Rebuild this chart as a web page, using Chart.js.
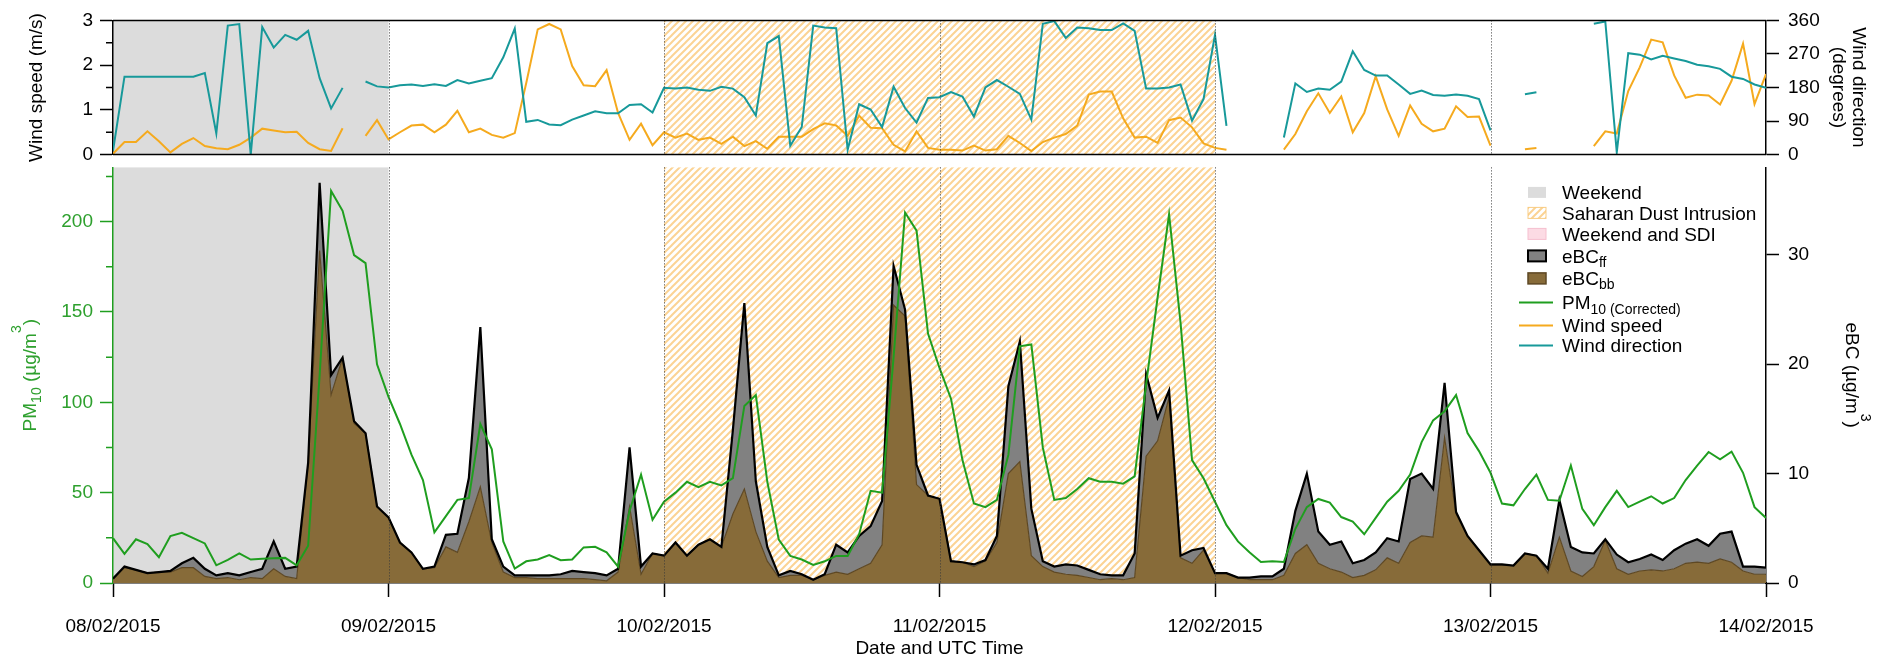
<!DOCTYPE html>
<html>
<head>
<meta charset="utf-8">
<title>eBC, PM10 and wind, 08-14/02/2015</title>
<script src="https://cdn.jsdelivr.net/npm/chart.js@4.4.1/dist/chart.umd.min.js"></script>
<style>
  html, body { margin: 0; padding: 0; background: #fff; }
  #wrap { position: relative; width: 1887px; height: 661px; overflow: hidden; }
  #mainChart { position: absolute; left: 0; top: 147px; }
  #windChart { position: absolute; left: 0; top: 0; }
</style>
</head>
<body>
<div id="wrap">
  <canvas id="mainChart" width="1887" height="514"></canvas>
  <canvas id="windChart" width="1887" height="175"></canvas>
</div>
<script>
// hourly values, 08/02/2015 00:00 -> 14/02/2015 00:00 UTC (145 points, one row per day)
const dayLabels = ['08/02/2015', '09/02/2015', '10/02/2015', '11/02/2015', '12/02/2015', '13/02/2015', '14/02/2015'];

const windSpeed = [
  0.02, 0.28, 0.28, 0.52, 0.30, 0.05, 0.24, 0.37, 0.19, 0.14, 0.12, 0.22, 0.38, 0.58, 0.54, 0.50, 0.51, 0.26, 0.12, 0.08, 0.59, null, 0.42, 0.77,
  0.34, 0.50, 0.65, 0.67, 0.50, 0.67, 0.98, 0.50, 0.58, 0.44, 0.38, 0.48, 1.60, 2.80, 2.92, 2.80, 1.98, 1.55, 1.53, 1.89, 0.93, 0.33, 0.69, 0.21,
  0.50, 0.38, 0.47, 0.33, 0.38, 0.24, 0.40, 0.19, 0.30, 0.13, 0.40, 0.40, 0.40, 0.57, 0.70, 0.65, 0.42, 0.87, 0.60, 0.59, 0.22, 0.07, 0.52, 0.15,
  0.11, 0.11, 0.09, 0.20, 0.09, 0.12, 0.42, 0.26, 0.08, 0.28, 0.38, 0.46, 0.65, 1.34, 1.41, 1.41, 0.81, 0.38, 0.40, 0.26, 0.77, 0.83, 0.61, 0.25,
  0.15, 0.11, null, null, null, null, 0.11, 0.46, 0.97, 1.37, 0.93, 1.30, 0.50, 0.93, 1.75, 1.01, 0.42, 1.10, 0.69, 0.52, 0.58, 1.08, 0.84, 0.85,
  0.20, null, null, 0.12, 0.15, null, null, null, null, 0.19, 0.52, 0.47, 1.42, 1.95, 2.57, 2.51, 1.77, 1.27, 1.34, 1.32, 1.12, 1.65, 2.48, 1.13, 1.80
];

const windDir = [
  10, 209, 209, 209, 209, 209, 209, 209, 219, 57, 346, 350, 0, 342, 287, 321, 308, 332, 205, 124, 179, null, 196, 183,
  180, 186, 188, 184, 189, 184, 200, 191, 198, 205, 261, 338, 88, 93, 81, 79, 94, 105, 116, 111, 111, 133, 135, 113,
  179, 177, 180, 174, 171, 182, 177, 154, 105, 299, 318, 24, 74, 346, 341, 339, 13, 135, 121, 74, 182, 125, 86, 152,
  154, 168, 156, 102, 180, 200, 182, 163, 94, 351, 358, 313, 341, 339, 334, 334, 352, 332, 177, 177, 180, 188, 91, 149,
  321, 77, null, null, null, null, 46, 191, 168, 177, 174, 196, 277, 227, 212, 212, 188, 163, 172, 160, 158, 161, 158, 149,
  65, null, null, 162, 167, null, null, null, null, 351, 357, 6, 272, 268, 255, 265, 258, 251, 241, 237, 230, 209, 203, 188, 179
];

const pm10 = [
  24.8, 16.1, 24.2, 21.5, 14.3, 26, 27.8, 24.8, 21.9, 9.8, 12.8, 16.4, 13, 13.4, 13.7, 13.9, 9.8, 20.6, 115, 217, 206, 181.5, 177, 121,
  103, 88, 71, 57, 28, 37, 46, 47, 88, 74, 23, 8, 12, 13, 15.5, 12.6, 13, 19.7, 20, 17, 9, 40, 60, 35,
  45, 50, 56, 53, 56, 54, 58, 98, 104, 56, 24, 15, 13, 10, 12, 15, 15, 27, 51, 50, 125, 205, 195, 138,
  119, 102, 68, 44, 42, 46, 71, 131, 132, 75, 46, 47, 52, 58, 56, 56, 55, 59, 110, 158, 204, 144, 68, 58,
  45, 32, 23, 17, 11.6, 12, 11.6, 30, 42, 46.5, 44.5, 36.5, 34, 27, 36, 45, 51, 60, 78, 90, 95, 104, 83, 73,
  61, 44, 43, 52, 60, 46, 45.5, 65, 41, 32, 42, 51, 42, 45, 48, 44, 47, 57, 65, 72.5, 68.5, 72.7, 61, 42, 36
];

// total eBC (top of the grey band, eBCff + eBCbb)
const ebcTotal = [
  0.4, 1.5, 1.2, 0.9, 1.0, 1.1, 1.8, 2.3, 1.3, 0.7, 0.9, 0.7, 1.0, 1.3, 3.8, 1.3, 1.5, 11, 36.6, 19, 20.6, 14.8, 13.7, 7,
  6, 3.7, 2.8, 1.3, 1.5, 4.4, 4.5, 9.6, 23.4, 4, 1.5, 0.7, 0.7, 0.7, 0.7, 0.8, 1.1, 1.0, 0.9, 0.7, 1.3, 12.4, 1.5, 2.7,
  2.5, 3.7, 2.5, 3.5, 4, 3.3, 14, 25.6, 9.3, 3.3, 0.7, 1.1, 0.8, 0.3, 0.8, 3.5, 2.8, 4.3, 5.2, 7.5, 29, 25, 10.8, 8,
  7.7, 2, 1.9, 1.7, 2.1, 4.3, 18, 22.1, 6.8, 2, 1.5, 1.7, 1.6, 1.2, 0.8, 0.7, 0.7, 2.7, 19.1, 15.1, 17.6, 2.5, 3, 3.2,
  0.9, 0.9, 0.5, 0.5, 0.6, 0.6, 1.3, 6.6, 10, 4.7, 3.5, 3.8, 1.8, 2.1, 2.8, 4.1, 3.8, 9.5, 10, 8.6, 18.3, 6.5, 4.3, 3,
  1.7, 1.7, 1.6, 2.7, 2.5, 1.3, 7.6, 3.3, 2.8, 2.7, 4, 2.6, 1.9, 2.2, 2.6, 2.1, 3, 3.6, 4, 3.4, 4.5, 4.7, 1.5, 1.5, 1.4
];

// biomass burning part
const ebcBb = [
  0.4, 1.4, 1.2, 0.9, 1.0, 1.0, 1.4, 1.4, 0.6, 0.4, 0.5, 0.3, 0.5, 0.4, 1.3, 0.6, 0.4, 11, 30.4, 17.2, 20.6, 14.6, 13.7, 7,
  6, 3.7, 2.8, 1.3, 1.4, 3.3, 2.8, 5.6, 8.8, 3.7, 1.0, 0.5, 0.5, 0.4, 0.4, 0.4, 0.4, 0.4, 0.3, 0.2, 1.0, 7, 0.8, 2.7,
  2.5, 3.7, 2.5, 3.5, 4, 3.3, 6.3, 8.6, 4.7, 2, 0.5, 0.7, 0.7, 0.3, 0.7, 1.0, 0.8, 1.3, 1.8, 3.5, 25.4, 24.4, 9, 8,
  7.7, 2, 1.9, 1.5, 2, 3.7, 10, 11.1, 2.5, 1.5, 1.0, 0.8, 0.7, 0.5, 0.3, 0.4, 0.3, 0.5, 11.6, 13, 17, 2.3, 1.8, 3,
  0.9, 0.9, 0.5, 0.3, 0.3, 0.3, 0.7, 2.7, 3.5, 1.8, 1.3, 1.0, 0.5, 0.7, 1.2, 2.3, 1.8, 3.7, 4.3, 4.2, 13.3, 6.3, 4.3, 3,
  1.6, 1.6, 1.6, 2.7, 2.5, 0.9, 4.2, 1.1, 0.6, 1.5, 3.9, 1.3, 0.8, 1.1, 1.2, 1.1, 1.3, 1.8, 1.9, 1.8, 2.2, 1.9, 1.1, 0.8, 0.8
];

// periods in hours from the start
const weekendSpans = [[0, 24]];
const dustSpans = [[48, 96]];

const FONT = '"Liberation Sans", Arial, Helvetica, sans-serif';
const FS = 19;
Chart.defaults.font.family = FONT;
Chart.defaults.font.size = FS;
Chart.defaults.color = '#000';

const GREEN = '#1f9e1f';
const GREEN_TXT = '#2ea02e';
const ORANGE = '#f5aa1e';
const TEAL = '#17999a';
const GREY_BAND = '#818181';
const BROWN = '#876b39';
const BROWN_EDGE = '#5e4824';
const WEEKEND = '#dcdcdc';

const pts = arr => arr.map((v, i) => ({ x: i, y: v }));

// diagonal hatch tile for the dust intrusion period
const tile = document.createElement('canvas');
tile.width = 7;
tile.height = 7;
(() => {
  const g = tile.getContext('2d');
  g.strokeStyle = 'rgba(250,196,112,0.75)';
  g.lineWidth = 2;
  g.beginPath();
  g.moveTo(-1, 1); g.lineTo(1, -1);
  g.moveTo(-1, 8); g.lineTo(8, -1);
  g.moveTo(6, 8); g.lineTo(8, 6);
  g.stroke();
})();

function shadeSpans(chart) {
  const { ctx, chartArea: a, scales: { x } } = chart;
  ctx.save();
  ctx.fillStyle = WEEKEND;
  weekendSpans.forEach(([s, e]) => {
    const x0 = x.getPixelForValue(s), x1 = x.getPixelForValue(e);
    ctx.fillRect(x0, a.top, x1 - x0, a.bottom - a.top);
  });
  ctx.fillStyle = ctx.createPattern(tile, 'repeat');
  dustSpans.forEach(([s, e]) => {
    const x0 = x.getPixelForValue(s), x1 = x.getPixelForValue(e);
    ctx.fillRect(x0, a.top, x1 - x0, a.bottom - a.top);
  });
  ctx.restore();
}

function dayLines(chart) {
  const { ctx, chartArea: a, scales: { x } } = chart;
  ctx.save();
  ctx.strokeStyle = '#3a3a3a';
  ctx.lineWidth = 1;
  ctx.setLineDash([1, 2]);
  for (let d = 1; d < dayLabels.length - 1; d++) {
    const px = Math.round(x.getPixelForValue(d * 24)) + 0.5;
    ctx.beginPath();
    ctx.moveTo(px, a.top);
    ctx.lineTo(px, a.bottom);
    ctx.stroke();
  }
  ctx.restore();
}

function minorTicks(chart, id, values, len, color) {
  const s = chart.scales[id];
  const ctx = chart.ctx;
  const left = s.position === 'left';
  const x0 = left ? s.right : s.left;
  ctx.save();
  ctx.strokeStyle = color;
  ctx.lineWidth = 1.5;
  ctx.beginPath();
  values.forEach(v => {
    const y = s.getPixelForValue(v);
    ctx.moveTo(x0, y);
    ctx.lineTo(left ? x0 - len : x0 + len, y);
  });
  ctx.stroke();
  ctx.restore();
}

// text made of runs: [text, size, baseline shift]
function drawParts(ctx, parts, x, y, angle = 0, align = 'center', color = '#000') {
  ctx.save();
  ctx.translate(x, y);
  ctx.rotate(angle);
  ctx.fillStyle = color;
  ctx.textBaseline = 'alphabetic';
  ctx.textAlign = 'left';
  const widths = parts.map(([t, size]) => {
    ctx.font = size + 'px ' + FONT;
    return ctx.measureText(t).width;
  });
  const total = widths.reduce((s, w) => s + w, 0);
  let cx = align === 'center' ? -total / 2 : 0;
  parts.forEach(([t, size, dy = 0], i) => {
    ctx.font = size + 'px ' + FONT;
    ctx.fillText(t, cx, 7 + dy);
    cx += widths[i];
  });
  ctx.restore();
}

function hLine(ctx, x0, x1, y, color, w) {
  ctx.save();
  ctx.strokeStyle = color;
  ctx.lineWidth = w;
  ctx.beginPath();
  ctx.moveTo(x0, y);
  ctx.lineTo(x1, y);
  ctx.stroke();
  ctx.restore();
}

const axisGrid = color => ({ drawOnChartArea: false, tickLength: 13, tickWidth: 1.5, tickColor: color });
const axisBorder = color => ({ color: color, width: 1.5 });

// ---- wind panel ----
const windDecor = {
  id: 'windDecor',
  beforeDraw: shadeSpans,
  afterDraw(chart) {
    const { ctx, chartArea: a } = chart;
    dayLines(chart);
    hLine(ctx, a.left, a.right, a.top, '#000', 1.5);
    hLine(ctx, a.left, a.right, a.bottom, '#000', 1.5);
    minorTicks(chart, 'yWs', [0.5, 1.5, 2.5], 7, '#000');
    const mid = (a.top + a.bottom) / 2;
    drawParts(ctx, [['Wind speed (m/s)', FS]], 35, mid, -Math.PI / 2);
    drawParts(ctx, [['Wind direction', FS]], a.right + 94, mid, Math.PI / 2);
    drawParts(ctx, [['(degrees)', FS]], a.right + 74, mid, Math.PI / 2);
  }
};

new Chart(document.getElementById('windChart'), {
  type: 'line',
  data: {
    datasets: [
      { label: 'Wind direction', data: pts(windDir), yAxisID: 'yDir', borderColor: TEAL, borderWidth: 2, pointRadius: 0, order: 0 },
      { label: 'Wind speed', data: pts(windSpeed), yAxisID: 'yWs', borderColor: ORANGE, borderWidth: 2, pointRadius: 0, order: 1 }
    ]
  },
  options: {
    responsive: false,
    animation: false,
    events: [],
    layout: { padding: { top: 17, bottom: 16, left: 0, right: 0 } },
    plugins: { legend: { display: false }, tooltip: { enabled: false } },
    scales: {
      x: { type: 'linear', min: 0, max: 144, display: false },
      yWs: {
        position: 'left', min: 0, max: 3,
        ticks: { stepSize: 1, padding: 7 },
        grid: axisGrid('#000'), border: axisBorder('#000'),
        afterFit: s => { s.width = 113; }
      },
      yDir: {
        position: 'right', min: 0, max: 360,
        ticks: { stepSize: 90, padding: 9 },
        grid: axisGrid('#000'), border: axisBorder('#000'),
        afterFit: s => { s.width = 121; }
      }
    }
  },
  plugins: [windDecor]
});

// ---- PM10 / eBC panel ----
const mainDecor = {
  id: 'mainDecor',
  beforeDraw: shadeSpans,
  afterDatasetsDraw: dayLines,
  afterDraw(chart) {
    const { ctx, chartArea: a } = chart;
    minorTicks(chart, 'yPm', [25, 75, 125, 175, 225], 7, GREEN);
    const mid = (a.top + a.bottom) / 2;
    drawParts(ctx, [['PM', FS], ['10', 14, 5], [' (\u00b5g/m', FS], ['3', 14, -15], [')', FS]], 29, mid, -Math.PI / 2, 'center', GREEN_TXT);
    drawParts(ctx, [['eBC (\u00b5g/m', FS], ['3', 14, -15], [')', FS]], a.right + 87, mid, Math.PI / 2);
    drawParts(ctx, [['Date and UTC Time', FS]], (a.left + a.right) / 2, a.bottom + 64);

    // legend
    const tx = a.right - 204, sx = a.right - 238, lx0 = a.right - 247, lx1 = a.right - 213;
    const row = d => a.top + d;
    const box = (y, fill, stroke, w) => {
      ctx.save();
      ctx.fillStyle = fill;
      ctx.fillRect(sx, y - 5.5, 18, 11);
      if (stroke) {
        ctx.strokeStyle = stroke;
        ctx.lineWidth = w;
        ctx.strokeRect(sx, y - 5.5, 18, 11);
      }
      ctx.restore();
    };
    box(row(25), WEEKEND);
    box(row(45.5), ctx.createPattern(tile, 'repeat'), 'rgba(247,200,120,0.9)', 1);
    box(row(66.5), '#fcdbe4', '#f6bfcf', 1);
    box(row(88.5), GREY_BAND, '#000', 2);
    box(row(111), BROWN, BROWN_EDGE, 1.5);
    hLine(ctx, lx0, lx1, row(135), GREEN, 2);
    hLine(ctx, lx0, lx1, row(158), ORANGE, 2);
    hLine(ctx, lx0, lx1, row(178), TEAL, 2);
    drawParts(ctx, [['Weekend', FS]], tx, row(25), 0, 'left');
    drawParts(ctx, [['Saharan Dust Intrusion', FS]], tx, row(45.5), 0, 'left');
    drawParts(ctx, [['Weekend and SDI', FS]], tx, row(66.5), 0, 'left');
    drawParts(ctx, [['eBC', FS], ['ff', 14, 4]], tx, row(88.5), 0, 'left');
    drawParts(ctx, [['eBC', FS], ['bb', 14, 4]], tx, row(111), 0, 'left');
    drawParts(ctx, [['PM', FS], ['10 (Corrected)', 14, 5]], tx, row(135), 0, 'left');
    drawParts(ctx, [['Wind speed', FS]], tx, row(158), 0, 'left');
    drawParts(ctx, [['Wind direction', FS]], tx, row(178), 0, 'left');
  }
};

new Chart(document.getElementById('mainChart'), {
  type: 'line',
  data: {
    datasets: [
      { label: 'PM10 (Corrected)', data: pts(pm10), yAxisID: 'yPm', borderColor: GREEN, borderWidth: 2, pointRadius: 0, fill: false, order: 0 },
      { label: 'eBCff', data: pts(ebcTotal), yAxisID: 'yEbc', borderColor: '#000', borderWidth: 2.2, backgroundColor: GREY_BAND, pointRadius: 0, fill: 2, order: 1 },
      { label: 'eBCbb', data: pts(ebcBb), yAxisID: 'yEbc', borderColor: BROWN_EDGE, borderWidth: 1.2, backgroundColor: BROWN, pointRadius: 0, fill: 'origin', order: 2 }
    ]
  },
  options: {
    responsive: false,
    animation: false,
    events: [],
    layout: { padding: { top: 12, bottom: 0, left: 0, right: 0 } },
    plugins: {
      legend: { display: false },
      tooltip: { enabled: false },
      filler: { drawTime: 'beforeDatasetsDraw' }
    },
    scales: {
      x: {
        type: 'linear', position: 'bottom', min: 0, max: 144,
        ticks: { stepSize: 24, maxRotation: 0, autoSkip: false, padding: 18, callback: v => dayLabels[v / 24] },
        grid: { drawOnChartArea: false, tickLength: 14, tickWidth: 1.5, tickColor: '#000' },
        border: axisBorder('#000'),
        afterFit: s => { s.height = 78; }
      },
      yPm: {
        position: 'left', min: 0, max: 230,
        ticks: { stepSize: 50, includeBounds: false, padding: 7, color: GREEN_TXT },
        grid: axisGrid(GREEN), border: axisBorder(GREEN),
        afterFit: s => { s.width = 113; }
      },
      yEbc: {
        position: 'right', min: 0, max: 38,
        ticks: { stepSize: 10, includeBounds: false, padding: 9 },
        grid: axisGrid('#000'), border: axisBorder('#000'),
        afterFit: s => { s.width = 121; }
      }
    }
  },
  plugins: [mainDecor]
});
</script>
</body>
</html>
